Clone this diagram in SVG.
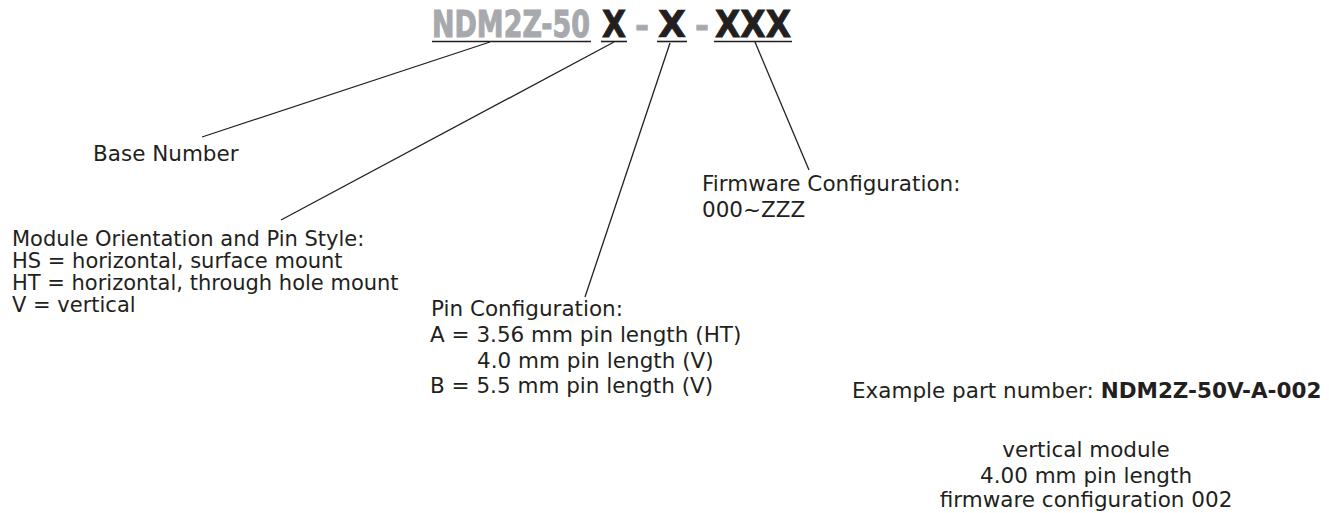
<svg xmlns="http://www.w3.org/2000/svg" width="1329" height="513" viewBox="0 0 1329 513">
<style>
.t{font-family:"DejaVu Sans","Verdana",sans-serif;font-size:21.5px;fill:#231f20}
.m{font-size:21px}
.b{font-weight:bold}
.h{font-family:"DejaVu Sans Condensed","DejaVu Sans",sans-serif;font-weight:bold;font-stretch:condensed;stroke-width:0.8}
.g{fill:#a7a9ac;stroke:#a7a9ac}
.k{fill:#231f20;stroke:#231f20}
.c{stroke:#231f20;stroke-width:1.3;fill:none}
.u{stroke:#231f20;stroke-width:1.6;fill:none}
</style>
<rect width="1329" height="513" fill="#ffffff"/>
<g id="title">
<text class="h g" transform="translate(432,37) scale(1,1.24)" font-size="29.8" textLength="158" lengthAdjust="spacingAndGlyphs">NDM2Z-50</text>
<text class="h k" transform="translate(602,37) scale(1,1.08)" font-size="34.3" textLength="24" lengthAdjust="spacingAndGlyphs">X</text>
<text class="h g" transform="translate(635,37)" font-size="34" textLength="14" lengthAdjust="spacingAndGlyphs">-</text>
<text class="h k" transform="translate(658,37) scale(1,0.925)" font-size="40" textLength="28" lengthAdjust="spacingAndGlyphs">X</text>
<text class="h g" transform="translate(695,37)" font-size="34" textLength="14" lengthAdjust="spacingAndGlyphs">-</text>
<text class="h k" transform="translate(715,37) scale(1,1.02)" font-size="36.2" textLength="76" lengthAdjust="spacingAndGlyphs">XXX</text>
<line class="u" x1="432" y1="41.5" x2="591" y2="41.5"/>
<line class="u" x1="601" y1="41.5" x2="627" y2="41.5"/>
<line class="u" x1="657" y1="41.5" x2="687" y2="41.5"/>
<line class="u" x1="714" y1="41.5" x2="792" y2="41.5"/>
</g>
<g id="connectors">
<line class="c" x1="490" y1="42" x2="202" y2="137"/>
<line class="c" x1="614" y1="42" x2="281" y2="220"/>
<line class="c" x1="670" y1="43" x2="585" y2="297"/>
<line class="c" x1="755" y1="42" x2="809" y2="170"/>
</g>
<g id="base-number">
<text class="t" x="93" y="161">Base Number</text>
</g>
<g id="module-orientation">
<text class="t m" x="12" y="246">Module Orientation and Pin Style:</text>
<text class="t m" x="12" y="268">HS = horizontal, surface mount</text>
<text class="t m" x="12" y="290">HT = horizontal, through hole mount</text>
<text class="t m" x="12" y="312">V = vertical</text>
</g>
<g id="pin-configuration">
<text class="t" x="431" y="316">Pin Configuration:</text>
<text class="t" x="430" y="342">A = 3.56 mm pin length (HT)</text>
<text class="t" x="477" y="368">4.0 mm pin length (V)</text>
<text class="t" x="430" y="393">B = 5.5 mm pin length (V)</text>
</g>
<g id="firmware-configuration">
<text class="t" x="702" y="191">Firmware Configuration:</text>
<text class="t" x="702" y="217">000~ZZZ</text>
</g>
<g id="example">
<text class="t" x="852" y="398">Example part number: <tspan class="b">NDM2Z-50V-A-002</tspan></text>
<text class="t" x="1086" y="457" text-anchor="middle">vertical module</text>
<text class="t" x="1086" y="483" text-anchor="middle">4.00 mm pin length</text>
<text class="t" x="1086" y="507" text-anchor="middle">firmware configuration 002</text>
</g>
</svg>
